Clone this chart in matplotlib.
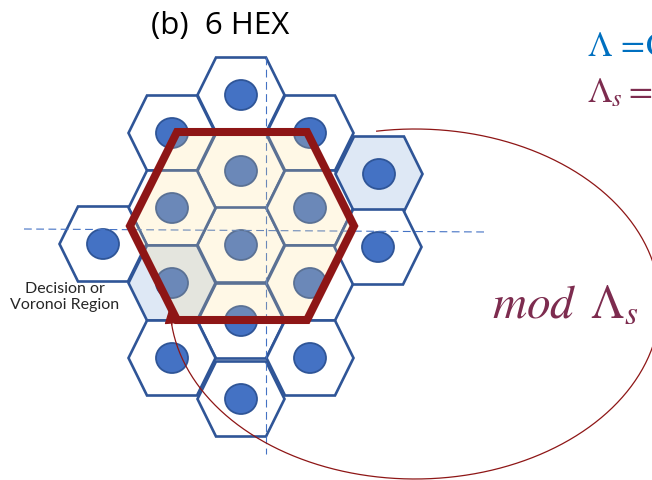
import matplotlib
matplotlib.use('Agg')
import matplotlib.pyplot as plt
from matplotlib.patches import Polygon, Ellipse
import numpy as np

plt.rcParams['mathtext.fontset'] = 'stix'

W, H = 652, 481

# ---- data (pixel coordinates of the diagram) ----
hex_x = [241, 241, 241, 241, 241, 172, 172, 172, 172, 310, 310, 310, 310, 103, 379, 378]
hex_y = [96, 172, 246, 322, 400, 134, 209, 284, 359, 134, 209, 284, 359, 245, 175, 248]
hex_shaded = [0, 0, 0, 0, 0, 0, 0, 1, 0, 0, 0, 0, 0, 0, 1, 0]

big_hex_center = (242, 227)
title_text = "(b)  6 HEX"
region_label = "Decision or\nVoronoi Region"
lambda_text = r'$\Lambda\,{=}\!\mathrm{C}$'
lambda_s_text = r'$\Lambda_{s}{=}$'
mod_text = r'$mod\ \,\Lambda_s$'

# dashed axes lines (start, end)
vline = ((266, 58), (266, 455))
hline = ((24, 230), (487, 233))

# ellipse arc params
arc_center = (415, 305)
arc_axes = (245, 175)
arc_t = (99, -178)

# ---- styles ----
HEX_A, HEX_B, HEX_H = 43.5, 25.0, 37.5
BIG_A, BIG_B, BIG_H = 112, 65, 94
EDGE = '#2F5597'
DOT = '#4472C4'
LIGHT = '#DEE8F5'
RED = '#8E1616'
MAGENTA = '#7D2C4F'
BLUE_TXT = '#0070C0'


def hex_verts(cx, cy, a, b, h):
    return np.array([(cx - a, cy), (cx - b, cy - h), (cx + b, cy - h),
                     (cx + a, cy), (cx + b, cy + h), (cx - b, cy + h)])


fig = plt.figure(figsize=(W / 100, H / 100), dpi=100)
ax = fig.add_axes([0, 0, 1, 1])
ax.set_xlim(0, W)
ax.set_ylim(H, 0)
ax.axis('off')

for x, y, s in zip(hex_x, hex_y, hex_shaded):
    ax.add_patch(Polygon(hex_verts(x, y, HEX_A, HEX_B, HEX_H), closed=True,
                         facecolor=LIGHT if s else 'white', edgecolor=EDGE,
                         lw=1.9, joinstyle='miter', zorder=1))
for x, y in zip(hex_x, hex_y):
    ax.add_patch(Ellipse((x, y), 32, 30, facecolor=DOT, edgecolor=EDGE,
                         lw=1.3, zorder=2))

for (p0, p1) in (vline, hline):
    ax.plot([p0[0], p1[0]], [p0[1], p1[1]], color=DOT, lw=0.8,
            linestyle=(0, (7, 4)), zorder=3)

# overlay region
bv = hex_verts(big_hex_center[0], big_hex_center[1], BIG_A, BIG_B, BIG_H)
ax.add_patch(Polygon(bv, closed=True, facecolor=(1.0, 222 / 255, 141 / 255),
                     alpha=0.21, edgecolor='none', zorder=4))

# arc
t = np.radians(np.linspace(arc_t[0], arc_t[1], 400))
ex = arc_center[0] + arc_axes[0] * np.cos(t)
ey = arc_center[1] - arc_axes[1] * np.sin(t)
ax.plot(ex, ey, color=RED, lw=0.9, zorder=5)
ax.annotate('', xy=(ex[-1], ey[-1] - 4), xytext=(ex[-8], ey[-8]),
            arrowprops=dict(arrowstyle='-|>,head_length=0.55,head_width=0.22',
                            color=RED, lw=0.9, shrinkA=0, shrinkB=0,
                            mutation_scale=20), zorder=5)

ax.add_patch(Polygon(bv, closed=True, facecolor='none', edgecolor=RED,
                     lw=5.8, joinstyle='miter', zorder=6))

# texts
ax.text(151, 34, title_text, fontsize=22.5, family='Open Sans', color='black',
        ha='left', va='baseline')
ax.text(65, 309, region_label, fontsize=11.5, family='Lato', color='#262626',
        ha='center', va='baseline', linespacing=1.15)
ax.text(587, 56, lambda_text, fontsize=25, color=BLUE_TXT, ha='left', va='baseline')
ax.text(587, 102, lambda_s_text, fontsize=25, color=MAGENTA, ha='left', va='baseline')
ax.text(492, 318, mod_text, fontsize=34, color=MAGENTA, ha='left', va='baseline')

fig.savefig('out.png', dpi=100)
